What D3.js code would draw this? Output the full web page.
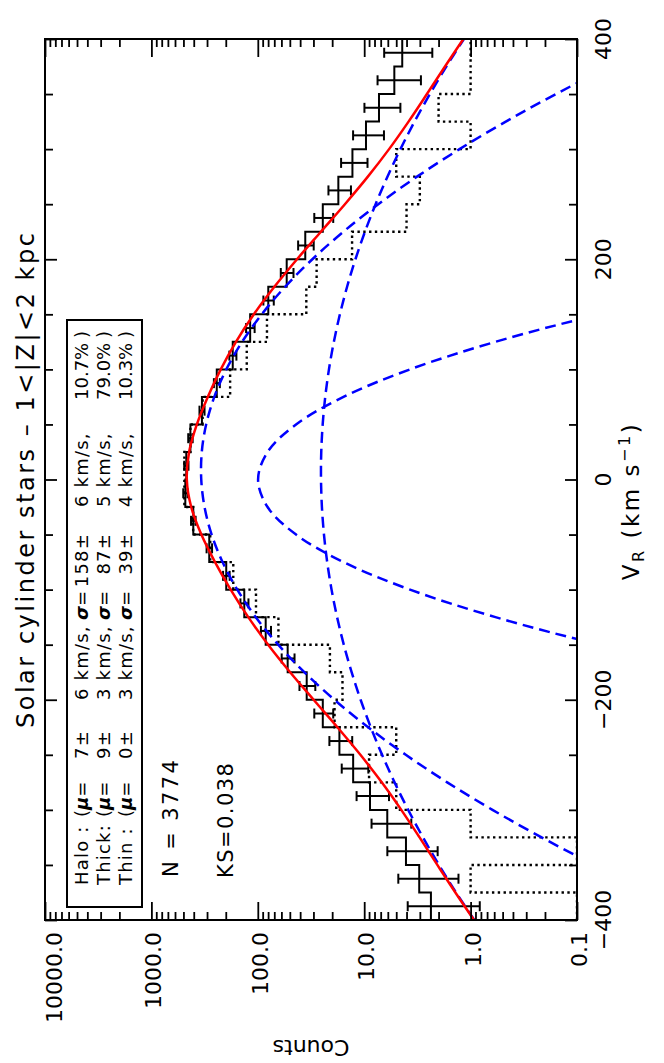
<!DOCTYPE html>
<html>
<head>
<meta charset="utf-8">
<script src="https://cdn.jsdelivr.net/npm/d3@7"></script>
<style>
  body { margin: 0; background: #fff; }
  svg { display: block; }
  text { font-family: "DejaVu Sans", sans-serif; fill: #000; }
</style>
</head>
<body>
<div id="chart"></div>
<script>
// histogram bins (lower edge, km/s), 25 km/s wide
const binStart = [-400, -375, -350, -325, -300, -275, -250, -225, -200, -175, -150, -125, -100, -75, -50, -25,
                  0, 25, 50, 75, 100, 125, 150, 175, 200, 225, 250, 275, 300, 325, 350, 375];
const counts = [2.36, 3.04, 4.05, 6.07, 8.82, 12.7, 17.1, 24.5, 34.7, 52.4, 84.3, 134, 198, 286, 404, 480,
                470, 430, 335, 243, 172, 118, 79.7, 53.5, 35.8, 24.5, 17.5, 12.9, 9.62, 7.26, 5.21, 4.39];
const countErr = [1.54, 1.74, 2.01, 2.46, 2.97, 3.56, 4.14, 4.95, 5.89, 7.24, 9.18, 11.6, 14.1, 16.9, 20.1, 21.9,
                  21.7, 20.7, 18.3, 15.6, 13.1, 10.9, 8.93, 7.31, 5.98, 4.95, 4.18, 3.59, 3.10, 2.69, 2.28, 2.10];
const dottedCounts = [0, 1, 0, 1, 5, 9, 5, 19, 16, 21, 64, 104, 170, 280, 405, 490,
                      490, 430, 330, 182, 127, 82, 35, 28, 13, 4, 3, 5, 1, 2, 1, 1];

// fitted model curves, sampled every 25 km/s
const modelV = [-400, -375, -350, -325, -300, -275, -250, -225, -200, -175, -150, -125, -100, -75, -50, -25, 0,
                25, 50, 75, 100, 125, 150, 175, 200, 225, 250, 275, 300, 325, 350, 375, 400];
const haloModel = [0.924, 1.371, 1.985, 2.803, 3.860, 5.184, 6.790, 8.674, 10.81, 13.13, 15.56, 17.98, 20.27, 22.28, 23.88, 24.97, 25.47,
                   25.33, 24.56, 23.24, 21.44, 19.29, 16.92, 14.48, 12.09, 9.840, 7.811, 6.048, 4.566, 3.363, 2.415, 1.692, 1.156];
const thickModel = [0.00543, 0.0201, 0.0686, 0.215, 0.623, 1.659, 4.067, 9.180, 19.08, 36.51, 64.34, 104.4, 155.9, 214.5, 271.6, 316.7, 340.0,
                    336.1, 305.9, 256.3, 197.8, 140.5, 91.91, 55.36, 30.70, 15.68, 7.372, 3.190, 1.272, 0.467, 0.158, 0.0491, 0.0141];
const totalModel = [0.929, 1.391, 2.054, 3.018, 4.483, 6.843, 10.86, 17.85, 29.89, 49.65, 79.96, 122.9, 179.9, 252.4, 339.2, 422.6, 464.8,
                    442.3, 374.1, 295.2, 222.9, 160.4, 108.9, 69.85, 42.79, 25.52, 15.18, 9.238, 5.838, 3.830, 2.573, 1.741, 1.170];
const thinV = [-200, -175, -150, -125, -100, -75, -50, -25, 0, 25, 50, 75, 100, 125, 150, 175, 200];
const thinModel = [0.000194, 0.00422, 0.0610, 0.584, 3.71, 15.65, 43.70, 80.95, 99.41, 80.95, 43.70, 15.65, 3.71, 0.584, 0.0610, 0.00422, 0.000194];

// axes
const vTicksMajor = [-400, -200, 0, 200, 400];
const vTickLabels = ["\u2212400", "\u2212200", "0", "200", "400"];
const vTicksMinor = [-350, -300, -250, -150, -100, -50, 50, 100, 150, 250, 300, 350];
const countTicksMajor = [0.1, 1, 10, 100, 1000, 10000];
const countTickLabels = ["0.1", "1.0", "10.0", "100.0", "1000.0", "10000.0"];
const decades = [0.1, 1, 10, 100, 1000];
const minorSteps = [2, 3, 4, 5, 6, 7, 8, 9];

// legend
const compNames = ["Halo :", "Thick:", "Thin :"];
const compMu = ["7", "9", "0"];
const compMuErr = ["6", "3", "3"];
const compSigma = ["158", "87", "39"];
const compSigmaErr = ["6", "5", "4"];
const compFrac = ["10.7%", "79.0%", "10.3%"];

const width = 664, height = 1063;
const plotLeft = 45, plotRight = 577, plotTop = 39, plotBottom = 920;
const binWidth = 25;

const svg = d3.select("#chart").append("svg")
  .attr("width", width)
  .attr("height", height);

const yScale = d3.scaleLinear().domain([-400, 400]).range([plotBottom, plotTop]);
const xScale = d3.scaleLog().domain([0.1, 10000]).range([plotRight, plotLeft]);
const xPos = c => c > 0 ? xScale(c) : xScale(0.1);

svg.append("clipPath").attr("id", "plotClip")
  .append("rect")
  .attr("x", plotLeft).attr("y", plotTop)
  .attr("width", plotRight - plotLeft).attr("height", plotBottom - plotTop);

const plot = svg.append("g").attr("clip-path", "url(#plotClip)");

// step histograms
const stepLine = d3.line().x(d => xPos(d[0])).y(d => yScale(d[1]));
const stepPoints = vals => binStart.flatMap((lo, i) => [[vals[i], lo], [vals[i], lo + binWidth]]);

plot.append("path")
  .attr("d", stepLine(stepPoints(dottedCounts)))
  .attr("fill", "none")
  .attr("stroke", "#000")
  .attr("stroke-width", 2.4)
  .attr("stroke-dasharray", "2.4,3.4");

plot.append("path")
  .attr("d", stepLine(stepPoints(counts)))
  .attr("fill", "none")
  .attr("stroke", "#000")
  .attr("stroke-width", 2);

// error bars
const errBars = plot.append("g").attr("stroke", "#000").attr("stroke-width", 2);
binStart.forEach((lo, i) => {
  const yc = yScale(lo + binWidth / 2);
  const x1 = xScale(counts[i] - countErr[i]);
  const x2 = xScale(counts[i] + countErr[i]);
  errBars.append("line").attr("x1", x1).attr("x2", x2).attr("y1", yc).attr("y2", yc);
  errBars.append("line").attr("x1", x1).attr("x2", x1).attr("y1", yc - 5).attr("y2", yc + 5);
  errBars.append("line").attr("x1", x2).attr("x2", x2).attr("y1", yc - 5).attr("y2", yc + 5);
});

// model curves
const curveLine = d3.line()
  .x(d => xScale(d[0]))
  .y(d => yScale(d[1]))
  .curve(d3.curveCatmullRom);

[[haloModel, modelV], [thickModel, modelV], [thinModel, thinV]].forEach(([vals, vs]) => {
  plot.append("path")
    .attr("d", curveLine(vals.map((c, i) => [c, vs[i]])))
    .attr("fill", "none")
    .attr("stroke", "#0000ff")
    .attr("stroke-width", 2.5)
    .attr("stroke-dasharray", "11,6");
});

plot.append("path")
  .attr("d", curveLine(totalModel.map((c, i) => [c, modelV[i]])))
  .attr("fill", "none")
  .attr("stroke", "#ff0000")
  .attr("stroke-width", 2.5);

// frame + ticks
const minorCounts = decades.flatMap(d => minorSteps.map(s => d * s));

function styleAxis(g) {
  g.select(".domain").remove();
  g.selectAll("line").attr("stroke", "#000").attr("stroke-width", 1.8);
}

svg.append("g").attr("transform", `translate(0,${plotBottom})`)
  .call(d3.axisTop(xScale).tickValues(countTicksMajor).tickSize(18).tickFormat(""))
  .call(styleAxis);
svg.append("g").attr("transform", `translate(0,${plotBottom})`)
  .call(d3.axisTop(xScale).tickValues(minorCounts).tickSize(8).tickFormat(""))
  .call(styleAxis);
svg.append("g").attr("transform", `translate(0,${plotTop})`)
  .call(d3.axisBottom(xScale).tickValues(countTicksMajor).tickSize(18).tickFormat(""))
  .call(styleAxis);
svg.append("g").attr("transform", `translate(0,${plotTop})`)
  .call(d3.axisBottom(xScale).tickValues(minorCounts).tickSize(8).tickFormat(""))
  .call(styleAxis);

svg.append("g").attr("transform", `translate(${plotLeft},0)`)
  .call(d3.axisRight(yScale).tickValues(vTicksMajor).tickSize(12).tickFormat(""))
  .call(styleAxis);
svg.append("g").attr("transform", `translate(${plotLeft},0)`)
  .call(d3.axisRight(yScale).tickValues(vTicksMinor).tickSize(8).tickFormat(""))
  .call(styleAxis);
svg.append("g").attr("transform", `translate(${plotRight},0)`)
  .call(d3.axisLeft(yScale).tickValues(vTicksMajor).tickSize(12).tickFormat(""))
  .call(styleAxis);
svg.append("g").attr("transform", `translate(${plotRight},0)`)
  .call(d3.axisLeft(yScale).tickValues(vTicksMinor).tickSize(8).tickFormat(""))
  .call(styleAxis);

svg.append("rect")
  .attr("x", plotLeft).attr("y", plotTop)
  .attr("width", plotRight - plotLeft).attr("height", plotBottom - plotTop)
  .attr("fill", "none")
  .attr("stroke", "#000")
  .attr("stroke-width", 2);

// text helpers (chart is printed rotated, text reads bottom to top)
function vText(x, y, anchor, size) {
  return svg.append("text")
    .attr("transform", `translate(${x},${y}) rotate(-90)`)
    .attr("text-anchor", anchor)
    .attr("font-size", size);
}

vTicksMajor.forEach((v, i) => {
  vText(611, yScale(v), "middle", 22).text(vTickLabels[i]);
});

countTicksMajor.forEach((c, i) => {
  const shift = c === 10000 ? 17 : 10;
  vText(xScale(c) + shift, 932, "end", 22).text(countTickLabels[i]);
});

vText(33.5, 728, "start", 24)
  .attr("textLength", 495)
  .attr("lengthAdjust", "spacing")
  .text("Solar cylinder stars \u2013 1<|Z|<2 kpc");

const vLabel = vText(639, 501, "middle", 23).attr("letter-spacing", 2.5);
vLabel.append("tspan").text("V");
vLabel.append("tspan").attr("font-size", 16).attr("dy", 5).text("R");
vLabel.append("tspan").attr("dy", -5).text(" (km s");
vLabel.append("tspan").attr("font-size", 16).attr("dy", -9).text("\u22121");
vLabel.append("tspan").attr("dy", 9).text(")");

svg.append("text")
  .attr("transform", "translate(311,1040) rotate(180)")
  .attr("text-anchor", "middle")
  .attr("font-size", 22)
  .text("Counts");

// legend box
svg.append("rect")
  .attr("x", 67).attr("y", 320)
  .attr("width", 75).attr("height", 587)
  .attr("fill", "none")
  .attr("stroke", "#000")
  .attr("stroke-width", 2);

const legendBase = [88, 110, 132];
compNames.forEach((name, i) => {
  const bx = legendBase[i];
  const ls = 1.2;
  vText(bx, 885, "start", 18).attr("letter-spacing", ls).text(name);
  const mu = vText(bx, 817, "start", 18);
  mu.append("tspan").text("(");
  mu.append("tspan").attr("font-style", "italic").attr("font-weight", "bold").text("\u03bc");
  mu.append("tspan").text("=");
  vText(bx, 730, "end", 18).attr("letter-spacing", ls).text(compMu[i] + "\u00b1");
  vText(bx, 700, "start", 18).attr("letter-spacing", ls).text(compMuErr[i] + " km/s,");
  const sg = vText(bx, 620, "start", 18);
  sg.append("tspan").attr("font-style", "italic").attr("font-weight", "bold").text("\u03c3");
  sg.append("tspan").text("=");
  vText(bx, 533, "end", 18).attr("letter-spacing", ls).text(compSigma[i] + "\u00b1");
  vText(bx, 507, "start", 18).attr("letter-spacing", ls).text(compSigmaErr[i] + " km/s,");
  vText(bx, 400, "start", 18).text(compFrac[i]);
  vText(bx, 338, "start", 18).text(")");
});

vText(178, 877, "start", 21)
  .attr("textLength", 117)
  .attr("lengthAdjust", "spacing")
  .text("N = 3774");

vText(233, 878, "start", 21)
  .attr("textLength", 115)
  .attr("lengthAdjust", "spacing")
  .text("KS=0.038");
</script>
</body>
</html>
